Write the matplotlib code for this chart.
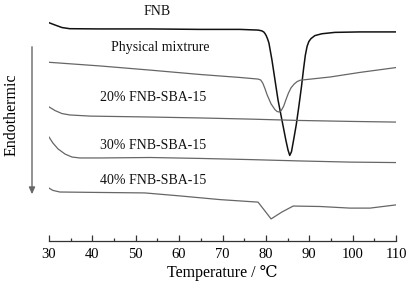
import matplotlib
matplotlib.use("Agg")
import matplotlib.pyplot as plt
from matplotlib.ticker import MultipleLocator

# ---- data (temperature in °C, heat flow in arbitrary offset units) ----
fnb_T = [30, 31.4, 33.0, 34.8, 41.8, 53.3, 64.8, 74.0, 78.2, 79.0, 79.5, 79.8, 80.1, 80.4, 80.7,
         81.4, 82.1, 82.8, 83.7, 84.6, 85.1, 85.5, 85.9, 86.4, 87.0, 87.6, 88.2,
         88.7, 89.1, 89.5, 89.9, 90.4, 91.3, 92.9, 95.9, 101.7, 110]
fnb_v = [94.9, 93.9, 92.8, 92.3, 92.2, 92.2, 92.0, 92.0, 91.7, 91.4, 90.9, 90.2, 89.2, 87.8, 86.1,
         78.7, 70.0, 61.3, 52.6, 43.9, 39.6, 37.2, 38.8, 44.0, 50.5, 58.5, 67.0,
         75.0, 80.8, 84.6, 86.7, 88.0, 89.3, 90.1, 90.7, 90.9, 90.9]

pm_T = [30, 41.8, 53.3, 64.8, 74.0, 78.2, 78.8, 79.3, 79.8, 80.3, 81.2, 82.1, 82.6, 83.0, 83.5,
        84.1, 84.6, 85.2, 85.8, 86.5, 87.2, 87.9, 94.8, 101.7, 110]
pm_v = [77.7, 76.1, 74.3, 72.4, 71.1, 70.4, 70.0, 68.6, 66.2, 63.5, 59.6, 57.1, 56.3, 56.1, 56.6,
        58.6, 61.3, 64.3, 66.6, 68.2, 69.3, 69.9, 71.3, 73.3, 75.4]

s20_T = [30, 31.4, 33.0, 34.8, 39.5, 53.3, 64.8, 76.3, 87.9, 99.4, 110]
s20_v = [58.3, 56.7, 55.4, 54.8, 54.3, 53.9, 53.5, 53.0, 52.4, 52.0, 51.7]

s30_T = [30, 30.9, 32.1, 33.7, 35.3, 37.1, 41.8, 53.3, 64.8, 76.3, 87.9, 99.4, 110]
s30_v = [45.2, 42.6, 40.0, 37.8, 36.5, 36.1, 36.1, 36.3, 35.9, 35.4, 34.8, 34.3, 34.1]

s40_T = [30, 30.9, 32.5, 41.8, 52.1, 60.2, 69.4, 78.2, 81.2, 83.7, 86.3, 92.5, 99.4, 104.0, 110]
s40_v = [23.0, 22.0, 21.3, 21.1, 20.9, 19.6, 18.0, 16.9, 9.6, 12.6, 15.2, 15.0, 14.3, 14.3, 15.7]

labels = ["FNB", "Physical mixtrure", "20% FNB-SBA-15", "30% FNB-SBA-15", "40% FNB-SBA-15"]
x_ticks = [30, 40, 50, 60, 70, 80, 90, 100, 110]
x_label = "Temperature / ℃"
y_label = "Endothermic"

serif = ["Liberation Serif", "DejaVu Serif"]
plt.rcParams["font.family"] = serif

fig = plt.figure(figsize=(4.09, 2.92), dpi=100)
ax = fig.add_axes([49/409, (292-241)/292, (396-49)/409, (241-8)/292])

ax.plot(fnb_T, fnb_v, color="#111111", lw=1.1)
ax.plot(pm_T, pm_v, color="#666666", lw=0.9)
ax.plot(s20_T, s20_v, color="#666666", lw=0.9)
ax.plot(s30_T, s30_v, color="#666666", lw=0.9)
ax.plot(s40_T, s40_v, color="#666666", lw=0.9)

label_pos = [(54.9, 99.6), (55.6, 84.3), (54.0, 62.2), (54.0, 41.7), (54.0, 26.5)]
for txt, (tx, ty) in zip(labels, label_pos):
    ax.text(tx, ty, txt, ha="center", va="center", fontsize=10, color="#111111")

ax.set_xlim(30, 110)
ax.set_ylim(0, 101.3)
for s in ["top", "right", "left"]:
    ax.spines[s].set_visible(False)
ax.spines["bottom"].set_color("#333333")
ax.spines["bottom"].set_linewidth(0.9)
ax.set_yticks([])
ax.set_xticks(x_ticks)
ax.xaxis.set_minor_locator(MultipleLocator(5))
ax.tick_params(axis="x", which="major", direction="in", length=4, width=0.9,
               labelsize=10.5, pad=5, color="#333333")
ax.tick_params(axis="x", which="minor", direction="in", length=2.5, width=0.9,
               color="#333333")
ax.set_xlabel(x_label, fontsize=11.5, labelpad=3, family=["Liberation Serif", "DejaVu Serif"])

# Endothermic arrow and label
fig.patches.append(matplotlib.patches.FancyArrowPatch(
    (32/409, 1-44/292), (32/409, 1-197/292), transform=fig.transFigure,
    arrowstyle="-|>,head_length=4,head_width=1.8", color="#666666", lw=1.0,
    mutation_scale=1))
fig.text(12/409, 1-115/292, y_label, rotation=90, ha="center", va="center", fontsize=11.5)

fig.savefig("out.png", dpi=100)
